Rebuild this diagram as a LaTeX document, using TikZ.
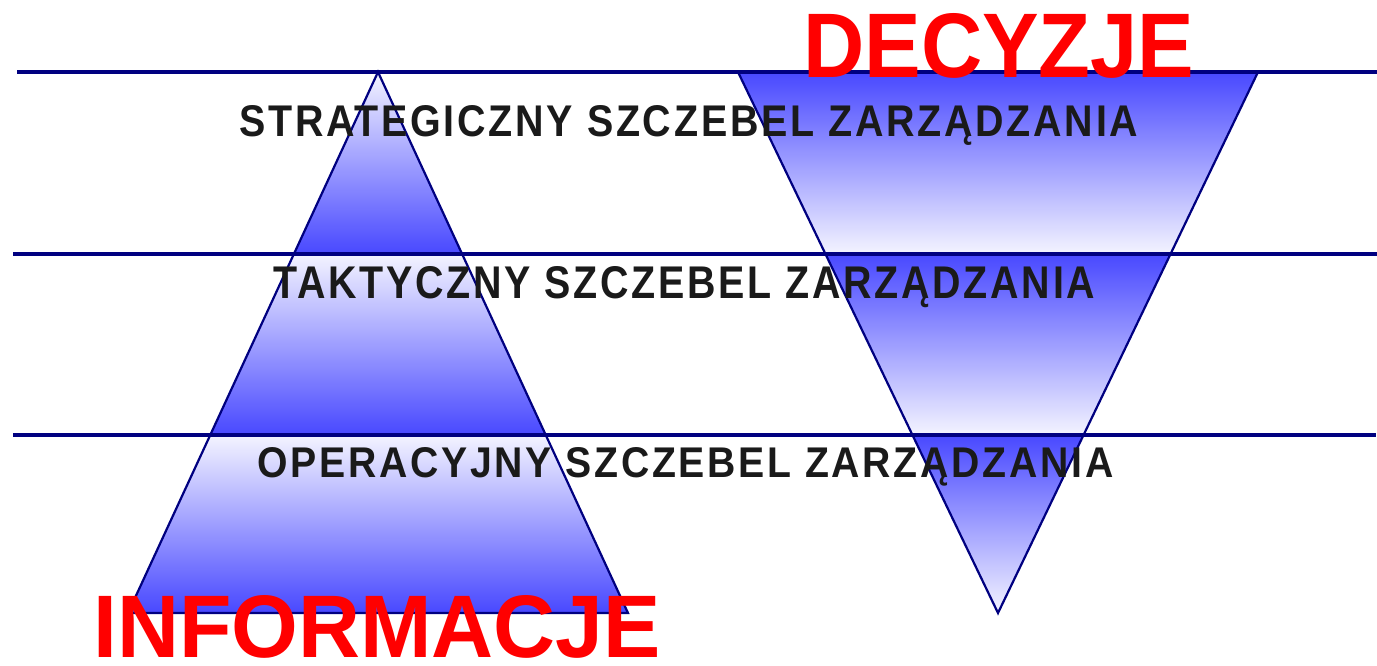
\documentclass[tikz,border=0pt]{standalone}
\usepackage{fontspec}
\setmainfont{Liberation Sans}
\newfontfamily\spacedsans{Liberation Sans}[LetterSpace=7]
\usepackage{graphicx}
\definecolor{navy}{RGB}{0,0,128}
\definecolor{deep}{RGB}{72,72,255}
\definecolor{pale}{RGB}{244,244,255}
\definecolor{ink}{RGB}{26,26,26}
\begin{document}
\begin{tikzpicture}[x=1pt,y=-1pt,
  level/.style={draw=navy,line width=3.2pt},
  outline/.style={draw=navy,line width=2.2pt,line join=miter},
  label/.style={anchor=base west,inner sep=0pt,text=ink,font=\spacedsans\bfseries},
  title/.style={anchor=base west,inner sep=0pt,text=red,font=\bfseries},
  risebox/.style={top color=pale,bottom color=deep},
  fallbox/.style={top color=deep,bottom color=pale}]
\useasboundingbox (0,0) rectangle (1377,665);

% pyramid of information (apex up)
\coordinate (pa) at (378,72);
\coordinate (pl) at (128,613);
\coordinate (pr) at (628,613);
% pyramid of decisions (apex down)
\coordinate (dl) at (738,72);
\coordinate (dr) at (1258,72);
\coordinate (da) at (998,613);

% shaded bands, each running light to dark within one management level
\begin{scope}
  \clip (pa) -- (pl) -- (pr) -- cycle;
  \shade[risebox] (100,72) rectangle (660,254);
  \shade[risebox] (100,254) rectangle (660,435);
  \shade[risebox] (100,435) rectangle (660,613);
\end{scope}
\begin{scope}
  \clip (dl) -- (dr) -- (da) -- cycle;
  \shade[fallbox] (720,72) rectangle (1280,254);
  \shade[fallbox] (720,254) rectangle (1280,435);
  \shade[fallbox] (720,435) rectangle (1280,613);
\end{scope}
\draw[outline] (pa) -- (pl) -- (pr) -- cycle;
\draw[outline] (dl) -- (dr) -- (da) -- cycle;

% level separators
\coordinate (l1a) at (17,72);   \coordinate (l1b) at (1377,72);
\coordinate (l2a) at (13,254);  \coordinate (l2b) at (1377,254);
\coordinate (l3a) at (13,435);  \coordinate (l3b) at (1376,435);
\draw[level] (l1a) -- (l1b);
\draw[level] (l2a) -- (l2b);
\draw[level] (l3a) -- (l3b);

% level names
\node[label] (strat) at (239,136)
  {\resizebox{899pt}{31pt}{STRATEGICZNY SZCZEBEL ZARZĄDZANIA}};
\node[label] (takt) at (273,298)
  {\resizebox{822pt}{32pt}{TAKTYCZNY SZCZEBEL ZARZĄDZANIA}};
\node[label] (oper) at (257,477)
  {\resizebox{856pt}{30pt}{OPERACYJNY SZCZEBEL ZARZĄDZANIA}};

% flow titles
\node[title] (dec) at (803,77) {\resizebox{391pt}{64pt}{DECYZJE}};
\node[title] (inf) at (93,657) {\resizebox{567pt}{62pt}{INFORMACJE}};
\end{tikzpicture}
\end{document}
